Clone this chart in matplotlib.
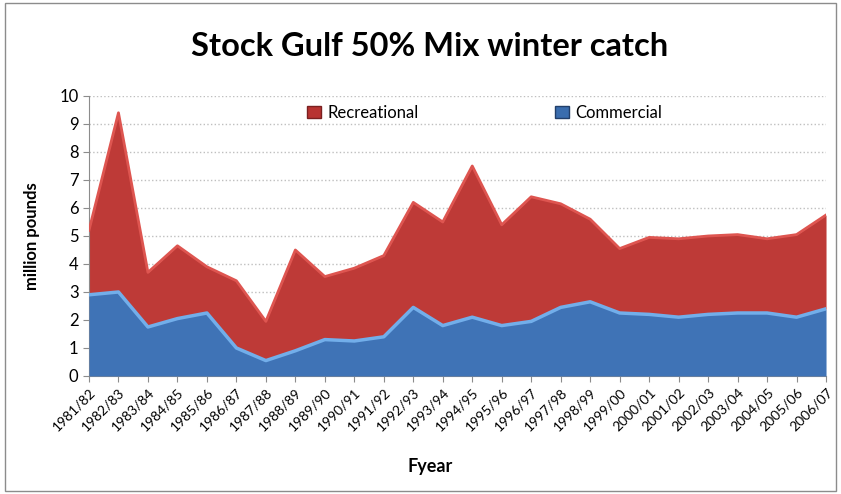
import matplotlib
matplotlib.use("Agg")
from matplotlib import pyplot as plt
from matplotlib.patches import Rectangle

plt.rcParams['font.family'] = ['Lato', 'DejaVu Sans']

#season labels, one per winter
seasons = ["1981/82", "1982/83", "1983/84", "1984/85", "1985/86", "1986/87",
           "1987/88", "1988/89", "1989/90", "1990/91", "1991/92", "1992/93",
           "1993/94", "1994/95", "1995/96", "1996/97", "1997/98", "1998/99",
           "1999/00", "2000/01", "2001/02", "2002/03", "2003/04", "2004/05",
           "2005/06", "2006/07"]

#million pounds
commercial = [2.9, 3.0, 1.75, 2.05, 2.25, 1.0, 0.55, 0.9, 1.3, 1.25, 1.4, 2.45,
              1.8, 2.1, 1.8, 1.95, 2.45, 2.65, 2.25, 2.2, 2.1, 2.2, 2.25, 2.25,
              2.1, 2.4]
recreational = [2.3, 6.4, 1.95, 2.6, 1.65, 2.4, 1.4, 3.6, 2.25, 2.6, 2.9, 3.75,
                3.7, 5.4, 3.6, 4.45, 3.7, 2.95, 2.3, 2.75, 2.8, 2.8, 2.8, 2.65,
                2.95, 3.35]

x = list(range(len(seasons)))
total = [c + r for c, r in zip(commercial, recreational)]

fig = plt.figure(figsize=(8.41, 4.94), dpi=100)
ax = fig.add_axes([0.1058, 0.2389, 0.8764, 0.5668])

#outer chart frame
fig.patches.append(Rectangle((0.006, 0.006), 0.988, 0.988, transform=fig.transFigure,
                             fill=False, edgecolor="#8c8c8c", linewidth=1.0))

ax.fill_between(x, commercial, total, color="#BE3A37", zorder=2, linewidth=0)
ax.plot(x, total, color="#DE5550", linewidth=2, zorder=3)
ax.fill_between(x, 0, commercial, color="#3F73B6", zorder=4, linewidth=0)
ax.plot(x, commercial, color="#72AEEA", linewidth=2.5, zorder=5)

#legend handles
h_rec = Rectangle((0, 0), 1, 1, facecolor="#B83331", edgecolor="#7a2020")
h_com = Rectangle((0, 0), 1, 1, facecolor="#3A6DAE", edgecolor="#223f6a")
ax.legend([h_rec, h_com], ["Recreational", "Commercial"], ncol=2,
          loc="center", bbox_to_anchor=(0.537, 0.94), frameon=False,
          fontsize=12, columnspacing=8.2, handlelength=0.8, handleheight=0.8,
          handletextpad=0.4)

ax.set_xlim(0, len(seasons) - 1)
ax.set_ylim(0, 10)
ax.set_yticks(range(0, 11))
ax.set_xticks(x)
ax.set_xticklabels(seasons, rotation=45, ha="right", rotation_mode="anchor",
                   fontsize=10)
ax.tick_params(axis="y", labelsize=12, length=4, color="#8c8c8c")
ax.tick_params(axis="x", length=4, color="#8c8c8c")
ax.grid(axis="y", color="#bfbfbf", linestyle=":", linewidth=1, zorder=0)
ax.set_axisbelow(True)

for s in ["top", "right"]:
    ax.spines[s].set_visible(False)
for s in ["left", "bottom"]:
    ax.spines[s].set_color("#8c8c8c")

ax.set_ylabel("million pounds", fontsize=12, fontweight="bold", labelpad=14)
fig.text(0.511, 0.045, "Fyear", fontsize=13, fontweight="bold", ha="center")
fig.text(0.511, 0.905, "Stock Gulf 50% Mix winter catch", fontsize=23.5,
         fontweight="bold", ha="center", va="center")

fig.savefig("out.png", dpi=100)
